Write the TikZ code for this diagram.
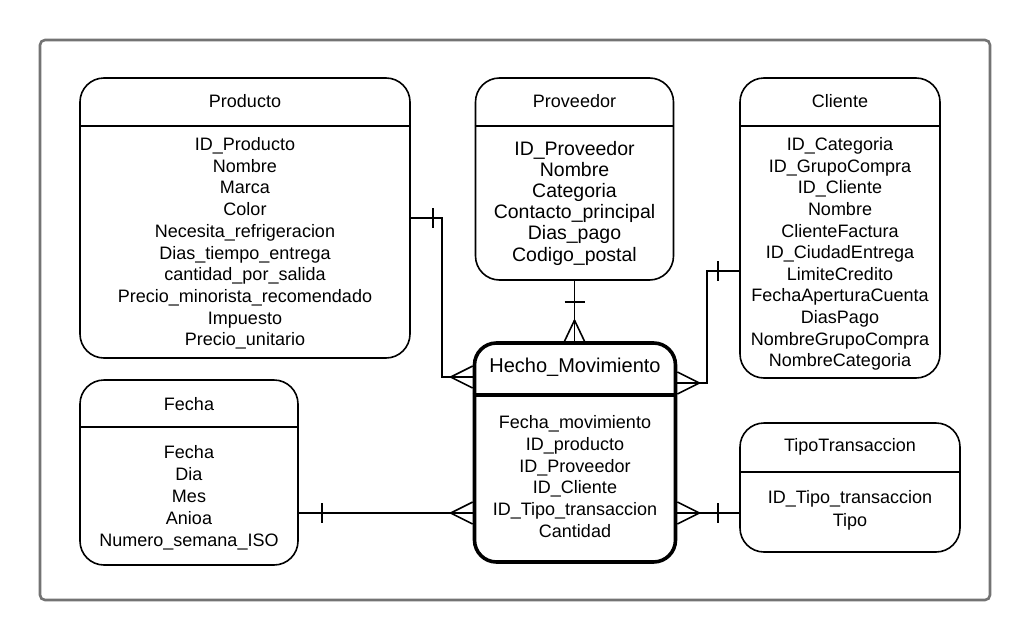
\documentclass[tikz,border=0pt]{standalone}
\usepackage{fontspec}
\setmainfont{Liberation Sans}
\usetikzlibrary{calc}
\begin{document}
\begin{tikzpicture}[x=1pt,y=-1pt,
  ent/.style={draw,line width=1.6pt,rounded corners=24pt,inner sep=0pt},
  fact/.style={draw,line width=3.6pt,rounded corners=22pt,inner sep=0pt},
  sep/.style={line width=1.6pt},
  fsep/.style={line width=3.6pt},
  ttl/.style={inner sep=0pt,font=\fontsize{18}{21.7}\selectfont},
  body/.style={align=center,inner sep=0pt},
  conn/.style={line width=1.6pt},
  frame/.style={draw=black!55,line width=2.6pt,rounded corners=5pt}
]
\useasboundingbox (0,0) rectangle (1030,640);
\fill[white] (0,0) rectangle (1030,640);
\draw[frame] (40,40) rectangle (990,600);

% ---------- Producto
\node[ent,minimum width=330pt,minimum height=280pt] (prod) at (245,218) {};
\draw[sep] (prod.west |- 0,126) -- (prod.east |- 0,126);
\node[ttl] (prodT) at (245,101) {Producto};
\node[body,font=\fontsize{18}{21.7}\selectfont] (prodB) at (245,243.5)
 {ID\_Producto\\Nombre\\Marca\\Color\\Necesita\_refrigeracion\\Dias\_tiempo\_entrega\\cantidad\_por\_salida\\Precio\_minorista\_recomendado\\Impuesto\\Precio\_unitario};

% ---------- Proveedor
\node[ent,minimum width=198pt,minimum height=202pt] (prov) at (574.5,179) {};
\draw[sep] (prov.west |- 0,126) -- (prov.east |- 0,126);
\node[ttl] (provT) at (574.5,101) {Proveedor};
\node[body,font=\fontsize{19.5}{21.2}\selectfont] (provB) at (574.5,203)
 {ID\_Proveedor\\Nombre\\Categoria\\Contacto\_principal\\Dias\_pago\\Codigo\_postal};

% ---------- Cliente
\node[ent,minimum width=200pt,minimum height=300pt] (cli) at (840,228) {};
\draw[sep] (cli.west |- 0,126) -- (cli.east |- 0,126);
\node[ttl] (cliT) at (840,101) {Cliente};
\node[body,font=\fontsize{18}{21.6}\selectfont] (cliB) at (840,254)
 {ID\_Categoria\\ID\_GrupoCompra\\ID\_Cliente\\Nombre\\ClienteFactura\\ID\_CiudadEntrega\\LimiteCredito\\FechaAperturaCuenta\\DiasPago\\NombreGrupoCompra\\NombreCategoria};

% ---------- Fecha
\node[ent,minimum width=218pt,minimum height=185pt] (fec) at (189,472.5) {};
\draw[sep] (fec.west |- 0,427) -- (fec.east |- 0,427);
\node[ttl] (fecT) at (189,404) {Fecha};
\node[body,font=\fontsize{18}{22}\selectfont] (fecB) at (189,498)
 {Fecha\\Dia\\Mes\\Anioa\\Numero\_semana\_ISO};

% ---------- Hecho_Movimiento
\node[fact,minimum width=201pt,minimum height=219pt] (hm) at (575,452.5) {};
\draw[fsep] (hm.west |- 0,395) -- (hm.east |- 0,395);
\node[inner sep=0pt,font=\fontsize{20}{24}\selectfont] (hmT) at (575,367) {Hecho\_Movimiento};
\node[body,font=\fontsize{18}{21.8}\selectfont] (hmB) at (575,476.5)
 {Fecha\_movimiento\\ID\_producto\\ID\_Proveedor\\ID\_Cliente\\ID\_Tipo\_transaccion\\Cantidad};

% ---------- TipoTransaccion
\node[ent,minimum width=220pt,minimum height=129pt] (tipo) at (850,487.5) {};
\draw[sep] (tipo.west |- 0,472) -- (tipo.east |- 0,472);
\node[ttl] (tipoT) at (850,447) {TipoTransaccion};
\node[body,font=\fontsize{18}{23}\selectfont] (tipoB) at (850,510.5)
 {ID\_Tipo\_transaccion\\Tipo};

% ---------- Connectors
% Producto -> Hecho
\coordinate (hmP) at (hm.west |- 0,377);
\draw[conn] (prod.east) -- ++(31,0) |- (hmP);
\draw[conn] ($(prod.east)+(22,-10)$) -- ++(0,20);
\draw[conn] ($(hmP)+(-22,0)$) -- ++(22,-11);
\draw[conn] ($(hmP)+(-22,0)$) -- ++(22,11);

% Proveedor -> Hecho
\coordinate (hmV) at (prov.south |- hm.north);
\draw[conn] (prov.south) -- (hmV);
\draw[conn] ($(prov.south)+(-10,21)$) -- ++(20,0);
\draw[conn] ($(hmV)+(0,-21)$) -- ++(-10,21);
\draw[conn] ($(hmV)+(0,-21)$) -- ++(10,21);

% Cliente -> Hecho
\coordinate (cliL) at (cli.west |- 0,271);
\coordinate (hmC) at (hm.east |- 0,383);
\draw[conn] (cliL) -- ++(-32,0) |- (hmC);
\draw[conn] ($(cliL)+(-21,-10)$) -- ++(0,20);
\draw[conn] ($(hmC)+(22,0)$) -- ++(-22,-11);
\draw[conn] ($(hmC)+(22,0)$) -- ++(-22,11);

% Fecha -> Hecho
\coordinate (fecR) at (fec.east |- 0,513);
\coordinate (hmF) at (hm.west |- 0,513);
\draw[conn] (fecR) -- (hmF);
\draw[conn] ($(fecR)+(23,-10)$) -- ++(0,20);
\draw[conn] ($(hmF)+(-22,0)$) -- ++(22,-11);
\draw[conn] ($(hmF)+(-22,0)$) -- ++(22,11);

% TipoTransaccion -> Hecho
\coordinate (tipoL) at (tipo.west |- 0,513);
\coordinate (hmT2) at (hm.east |- 0,513);
\draw[conn] (tipoL) -- (hmT2);
\draw[conn] ($(tipoL)+(-21,-10)$) -- ++(0,20);
\draw[conn] ($(hmT2)+(22,0)$) -- ++(-22,-11);
\draw[conn] ($(hmT2)+(22,0)$) -- ++(-22,11);
\end{tikzpicture}
\end{document}
